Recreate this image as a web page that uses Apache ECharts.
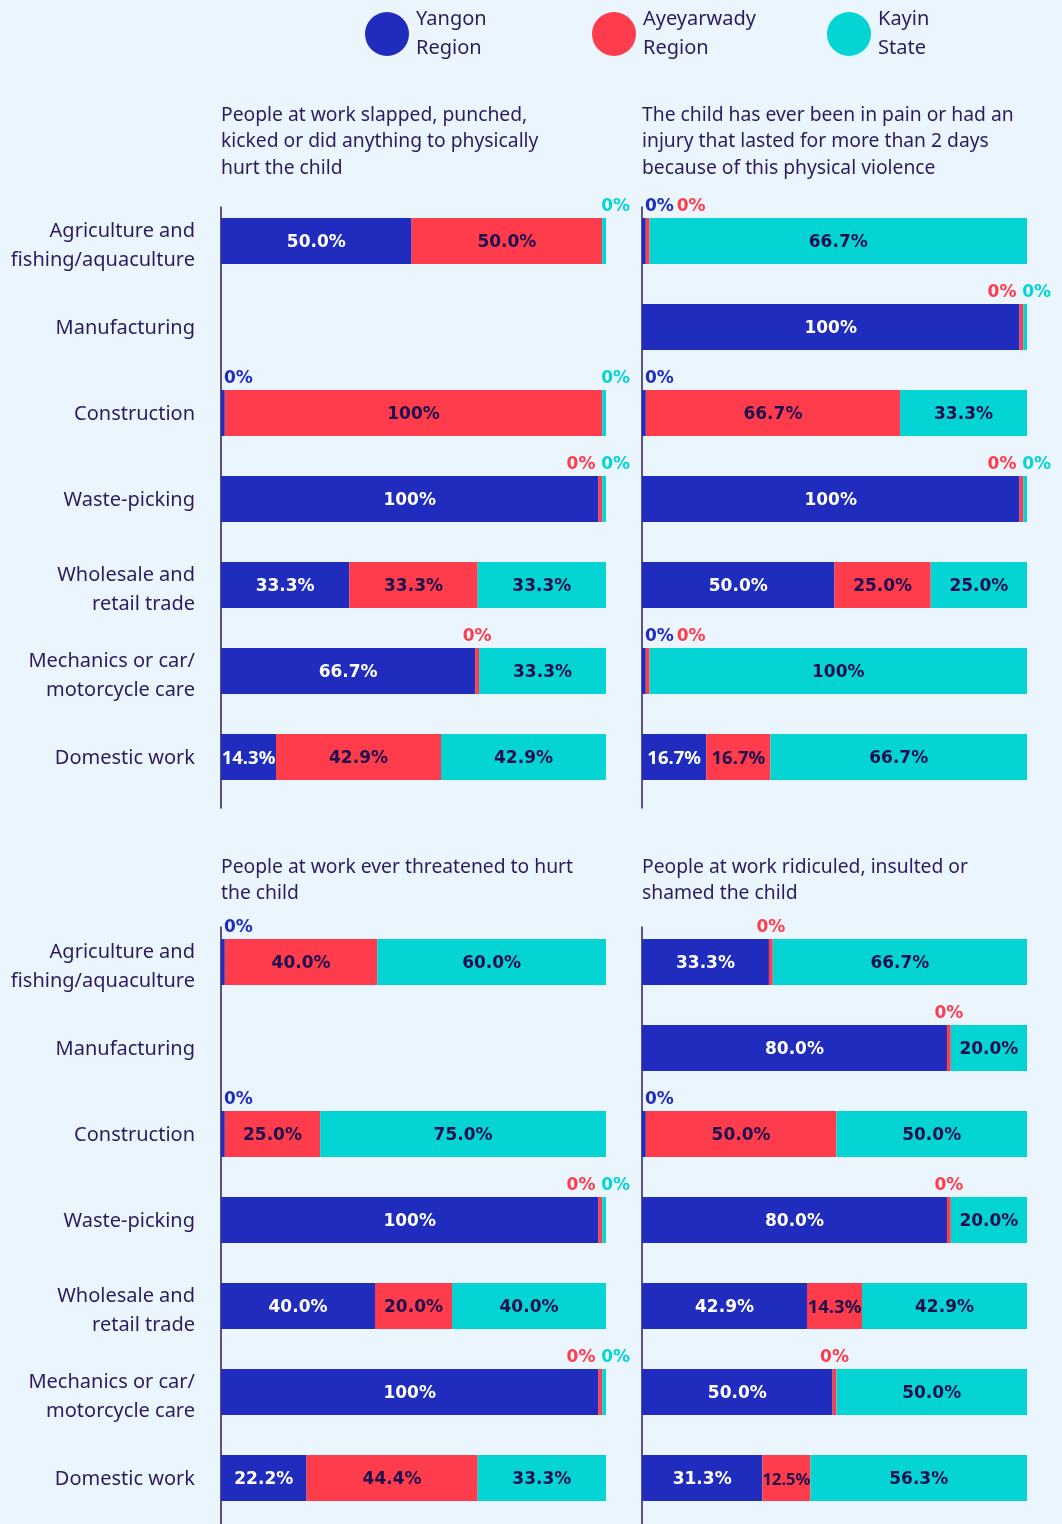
<!DOCTYPE html>
<html>
<head>
<meta charset="utf-8">
<script src="https://cdn.jsdelivr.net/npm/echarts@6/dist/echarts.min.js"></script>
<style>
  html, body { margin: 0; padding: 0; background: #EBF5FE; }
  #chart { width: 1062px; height: 1524px; }
</style>
</head>
<body>
<div id="chart"></div>
<script>
// ---------- data ----------
const categories = [
  'Agriculture and\nfishing/aquaculture',
  'Manufacturing',
  'Construction',
  'Waste-picking',
  'Wholesale and\nretail trade',
  'Mechanics or car/\nmotorcycle care',
  'Domestic work'
];
const seriesNames = ['Yangon Region', 'Ayeyarwady Region', 'Kayin State'];

const titleSlapped = 'People at work slapped, punched,\nkicked or did anything to physically\nhurt the child';
const titlePain = 'The child has ever been in pain or had an\ninjury that lasted for more than 2 days\nbecause of this physical violence';
const titleThreat = 'People at work ever threatened to hurt\nthe child';
const titleRidicule = 'People at work ridiculed, insulted or\nshamed the child';

// Panel 1: slapped / punched
const slapYangon = [50.0, null, 0, 100, 33.3, 66.7, 14.3];
const slapAyeyarwady = [50.0, null, 100, 0, 33.3, 0, 42.9];
const slapKayin = [0, null, 0, 0, 33.3, 33.3, 42.9];
// Panel 2: pain or injury
const painYangon = [0, 100, 0, 100, 50.0, 0, 16.7];
const painAyeyarwady = [0, 0, 66.7, 0, 25.0, 0, 16.7];
const painKayin = [66.7, 0, 33.3, 0, 25.0, 100, 66.7];
// Panel 3: threatened
const threatYangon = [0, null, 0, 100, 40.0, 100, 22.2];
const threatAyeyarwady = [40.0, null, 25.0, 0, 20.0, 0, 44.4];
const threatKayin = [60.0, null, 75.0, 0, 40.0, 0, 33.3];
// Panel 4: ridiculed
const ridYangon = [33.3, 80.0, 0, 80.0, 42.9, 50.0, 31.3];
const ridAyeyarwady = [0, 0, 50.0, 0, 14.3, 0, 12.5];
const ridKayin = [66.7, 20.0, 50.0, 20.0, 42.9, 50.0, 56.3];

// ---------- styling ----------
const colors = ['#202CBD', '#FF3C4B', '#05D4D4'];
const textColor = '#2B1A5E';
const darkLabel = '#1D0F4F';
const bg = '#EBF5FE';
const PLOT_W = 385;
const BAR_FONT = 'DejaVu Sans';

const panels = [
  { title: titleSlapped, values: [slapYangon, slapAyeyarwady, slapKayin], left: 221, top: 198, lineTop: 207, titleTop: 102, labels: true },
  { title: titlePain, values: [painYangon, painAyeyarwady, painKayin], left: 642, top: 198, lineTop: 207, titleTop: 102, labels: false },
  { title: titleThreat, values: [threatYangon, threatAyeyarwady, threatKayin], left: 221, top: 919, lineTop: 927, titleTop: 854, labels: true },
  { title: titleRidicule, values: [ridYangon, ridAyeyarwady, ridKayin], left: 642, top: 919, lineTop: 927, titleTop: 854, labels: false }
];

function fmt(v) {
  if (v === 100) return '100%';
  if (v === 0) return '0%';
  return v.toFixed(1) + '%';
}

function catFormatter(v) {
  const lines = v.split('\n');
  const pre = lines.length > 1 ? '{s| }\n' : '{s2| }\n';
  return pre + lines.map(l => '{t|' + l + '}').join('\n');
}

const grids = [], xAxes = [], yAxes = [], series = [], titles = [];

panels.forEach((p, pi) => {
  grids.push({ left: p.left, top: p.top, width: PLOT_W, height: 602 });
  xAxes.push({ gridIndex: pi, type: 'value', min: 0, max: 100, show: false });
  yAxes.push({
    gridIndex: pi, type: 'category', data: categories, inverse: true,
    axisLine: { show: false }, axisTick: { show: false }, splitLine: { show: false },
    axisLabel: {
      show: p.labels, color: textColor, fontFamily: 'Noto Sans', fontSize: 20,
      lineHeight: 29, align: 'right', margin: 26,
      formatter: catFormatter,
      rich: {
        t: { color: textColor, fontFamily: 'Noto Sans', fontSize: 20, lineHeight: 29, align: 'right' },
        s: { fontSize: 1, lineHeight: 10, align: 'right' },
        s2: { fontSize: 1, lineHeight: 2, align: 'right' }
      }
    }
  });
  titles.push({
    text: p.title, left: p.left, top: p.titleTop, padding: 0,
    textStyle: { color: textColor, fontFamily: 'Noto Sans', fontSize: 19.3, fontWeight: 'normal', lineHeight: 26.5 }
  });

  p.values.forEach((arr, si) => {
    const data = arr.map((v, ci) => {
      if (v === null) return '-';
      const row = p.values.map(a => a[ci]);
      const nzSum = row.reduce((a, b) => a + (b || 0), 0);
      const drawn = row.map(x => (x === 0 ? 1 : x / nzSum * 100));
      const sum = drawn.reduce((a, b) => a + b, 0);
      const val = drawn[si] / sum * 100;
      const item = { value: val, raw: v };
      if (v === 0) {
        let pos, align;
        if (si === 0) { pos = [3, -3]; align = 'left'; }
        else if (si === 1) {
          if (row[0] === 0) { pos = [31, -3]; align = 'left'; }
          else if (row[2] === 0) { pos = [-3, -3]; align = 'right'; }
          else { pos = 'top'; align = 'center'; }
        } else { pos = [-1, -3]; align = 'left'; }
        item.label = {
          show: true, position: pos, align: align, verticalAlign: 'bottom', distance: 3, offset: [0, 0],
          color: colors[si], fontFamily: BAR_FONT, fontWeight: 'bold', fontSize: 17
        };
      } else {
        const px = val * PLOT_W / 100;
        const lab = {};
        if (px < 52) { lab.fontFamily = 'Noto Sans'; lab.fontSize = 16.5; }
        else if (px < 66) { lab.fontFamily = 'Noto Sans'; lab.fontSize = 18.5; }
        item.label = lab;
      }
      return item;
    });
    series.push({
      name: seriesNames[si], type: 'bar', stack: 'panel' + pi,
      xAxisIndex: pi, yAxisIndex: pi, barWidth: 46,
      itemStyle: { color: colors[si] },
      label: {
        show: true, position: 'inside', offset: [0, 2],
        color: si === 0 ? '#FFFFFF' : darkLabel,
        fontFamily: BAR_FONT, fontWeight: 'bold', fontSize: 17,
        formatter: prm => fmt(prm.data.raw)
      },
      emphasis: { disabled: true },
      data: data
    });
  });
});

// axis-line grids
panels.forEach((p, pi) => {
  const gi = grids.length;
  grids.push({ left: p.left, top: p.lineTop, width: PLOT_W, height: p.lineTop === 207 ? 601 : 620 });
  xAxes.push({ gridIndex: gi, type: 'value', min: 0, max: 1, show: false });
  yAxes.push({
    gridIndex: gi, type: 'value', min: 0, max: 1,
    axisLine: { show: true, onZero: false, lineStyle: { color: textColor, width: 1.5 } },
    axisTick: { show: false }, axisLabel: { show: false }, splitLine: { show: false }
  });
});

const legendLefts = [365, 592, 827];
const legends = seriesNames.map((n, i) => ({
  data: [n], left: legendLefts[i], top: 5, padding: 0, icon: 'circle',
  itemWidth: 44, itemHeight: 44, selectedMode: false,
  formatter: name => name.replace(' ', '\n'),
  textStyle: { color: textColor, fontFamily: 'Noto Sans', fontSize: 20, lineHeight: 29, padding: [0, 0, 0, 2] }
}));

const chart = echarts.init(document.getElementById('chart'));
chart.setOption({
  backgroundColor: bg,
  animation: false,
  title: titles,
  legend: legends,
  grid: grids,
  xAxis: xAxes,
  yAxis: yAxes,
  series: series
});
</script>
</body>
</html>
